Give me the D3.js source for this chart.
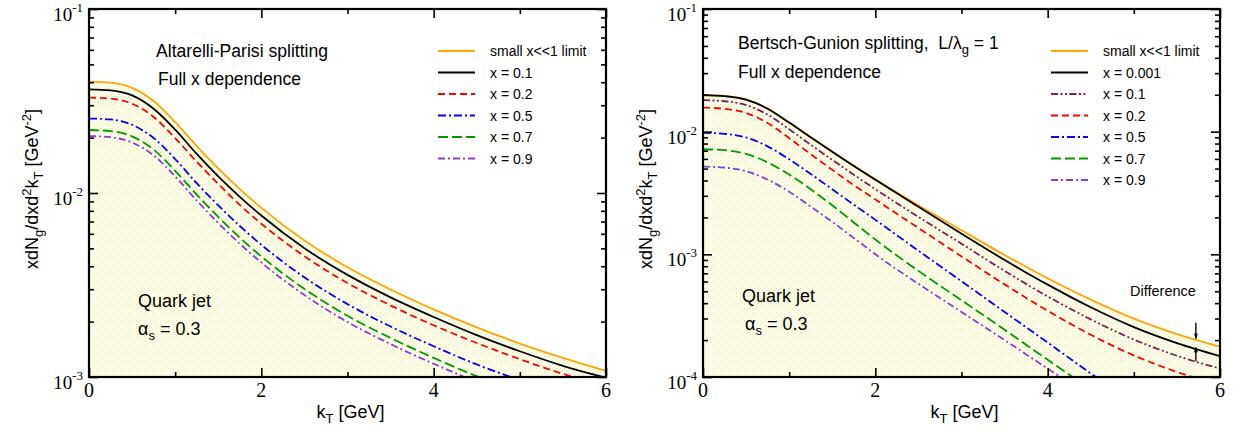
<!DOCTYPE html>
<html>
<head>
<meta charset="utf-8">
<script src="https://cdn.jsdelivr.net/npm/d3@7"></script>
<style>
  body { margin: 0; background: #fff; }
  svg text { font-family: "Liberation Sans", Arial, Helvetica, sans-serif; fill: #000; }
  svg text.num { font-family: "Liberation Serif", "Times New Roman", serif; }
</style>
</head>
<body>
<svg id="chart" width="1242" height="431"></svg>
<script>

// kT grid (GeV) shared by every curve
var kT = [0, 0.25, 0.5, 0.75, 1, 1.25, 1.5, 1.75, 2, 2.5, 3, 3.5, 4, 4.5, 5, 5.5, 6];

// left panel - Altarelli-Parisi splitting
var apLimit = [0.0403, 0.0398, 0.0373, 0.0316, 0.0243, 0.0180, 0.0136, 0.0105, 0.0083, 0.00552, 0.00395, 0.00299, 0.00233, 0.00186, 0.00152, 0.00127, 0.00108];
var apX01 = [0.0366, 0.0361, 0.0339, 0.0287, 0.0221, 0.0163, 0.0123, 0.00953, 0.00754, 0.00501, 0.00359, 0.00271, 0.00212, 0.00169, 0.00138, 0.00115, 0.00099];
var apX02 = [0.0330, 0.0326, 0.0306, 0.0259, 0.0199, 0.0148, 0.0112, 0.00861, 0.00681, 0.00453, 0.00324, 0.00245, 0.00191, 0.00153, 0.00125, 0.00104, 0.00089];
var apX05 = [0.0254, 0.0251, 0.0235, 0.0199, 0.0153, 0.0113, 0.00857, 0.00662, 0.00523, 0.00348, 0.00249, 0.00188, 0.00147, 0.00117, 0.00096, 0.00080, 0.00068];
var apX07 = [0.0220, 0.0217, 0.0203, 0.0172, 0.0132, 0.0098, 0.00741, 0.00572, 0.00452, 0.00301, 0.00215, 0.00163, 0.00127, 0.00101, 0.00083, 0.00069, 0.00059];
var apX09 = [0.0204, 0.0201, 0.0188, 0.0160, 0.0123, 0.0091, 0.00687, 0.00530, 0.00419, 0.00279, 0.00199, 0.00151, 0.00118, 0.00094, 0.00077, 0.00064, 0.00055];
var apLabels = ["small x<<1 limit", "x = 0.1", "x = 0.2", "x = 0.5", "x = 0.7", "x = 0.9"];

// right panel - Bertsch-Gunion splitting, L/lambda_g = 1
var bgLimit = [0.01991, 0.01954, 0.01828, 0.01542, 0.01189, 0.00902, 0.00687, 0.00527, 0.00409, 0.00251, 0.00157, 0.000989, 0.000638, 0.000427, 0.000299, 0.000224, 0.000177];
var bgX0001 = [0.01986, 0.01950, 0.01824, 0.01538, 0.01186, 0.00899, 0.00685, 0.00525, 0.00406, 0.00244, 0.00147, 0.000899, 0.000566, 0.000370, 0.000255, 0.000189, 0.000148];
var bgX01 = [0.01807, 0.01770, 0.01648, 0.01377, 0.01047, 0.00783, 0.00589, 0.00446, 0.00340, 0.00202, 0.00122, 0.000733, 0.000454, 0.000295, 0.000202, 0.000149, 0.000117];
var bgX02 = [0.01570, 0.01535, 0.01419, 0.01175, 0.00885, 0.00656, 0.00488, 0.00367, 0.00280, 0.00164, 0.000962, 0.000569, 0.000347, 0.000221, 0.000150, 0.000110, 0.0000863];
var bgX05 = [0.00979, 0.00961, 0.00897, 0.00759, 0.00596, 0.00452, 0.00339, 0.00254, 0.00191, 0.00107, 0.000603, 0.000339, 0.000191, 0.000107, 0.0000617, 0.0000355, 0.0000209];
var bgX07 = [0.00719, 0.00706, 0.00659, 0.00562, 0.00447, 0.00339, 0.00251, 0.00182, 0.00132, 0.000733, 0.000422, 0.000243, 0.000138, 0.0000794, 0.0000457, 0.0000263, 0.0000151];
var bgX09 = [0.00519, 0.00509, 0.00476, 0.00407, 0.00324, 0.00245, 0.00184, 0.00136, 0.00100, 0.000575, 0.000339, 0.000200, 0.000117, 0.0000692, 0.0000407, 0.0000240, 0.0000141];
var bgLabels = ["small x<<1 limit", "x = 0.001", "x = 0.1", "x = 0.2", "x = 0.5", "x = 0.7", "x = 0.9"];

// "Difference" arrows: kT and the two curve values they point at
var diffK = 5.72;
var diffValues = [0.000205, 0.000175];

// axis ticks
var xMajor = [0, 2, 4, 6];
var xMinor = [1, 3, 5];
var apDecades = [1e-3, 1e-2, 1e-1];
var apExps = ["-3", "-2", "-1"];
var bgDecades = [1e-4, 1e-3, 1e-2, 1e-1];
var bgExps = ["-4", "-3", "-2", "-1"];

// line styles
var stLimit  = { color: "#ffa500", dash: null };
var stBlack  = { color: "#000000", dash: null };
var stRed    = { color: "#ff0000", dash: "7,4" };
var stBlue   = { color: "#0000ff", dash: "8,3,2,3" };
var stGreen  = { color: "#009a00", dash: "10,4" };
var stPurple = { color: "#8a3fd1", dash: "7,3,2,3" };
var stMaroon = { color: "#7b1f55", dash: "7,2.5,2,2.5,2,2.5" };

var svg = d3.select("#chart");
var defs = svg.append("defs");

// pale stipple under the small-x curve
var pat = defs.append("pattern")
  .attr("id", "dots")
  .attr("patternUnits", "userSpaceOnUse")
  .attr("width", 4)
  .attr("height", 4);
pat.append("rect").attr("x", 0).attr("y", 0).attr("width", 4).attr("height", 4).attr("fill", "#fdfdf4");
pat.append("rect").attr("x", 0).attr("y", 0).attr("width", 1).attr("height", 1)
  .attr("fill", "#f0f040").attr("fill-opacity", 0.75).attr("shape-rendering", "crispEdges");
pat.append("rect").attr("x", 2).attr("y", 2).attr("width", 1).attr("height", 1)
  .attr("fill", "#f0f040").attr("fill-opacity", 0.75).attr("shape-rendering", "crispEdges");

defs.append("marker")
  .attr("id", "arrowHead")
  .attr("viewBox", "0 0 10 10")
  .attr("refX", 10)
  .attr("refY", 5)
  .attr("markerWidth", 6)
  .attr("markerHeight", 5)
  .attr("markerUnits", "userSpaceOnUse")
  .attr("orient", "auto")
  .append("path")
  .attr("d", "M0,1L10,5L0,9Z")
  .attr("fill", "#000");

function drawPanel(p) {

  var g = svg.append("g");

  var x = d3.scaleLinear().domain([0, 6]).range([p.left, p.right]);
  var y = d3.scaleLog().domain(p.yDomain).range([p.bottom, p.top]);

  defs.append("clipPath").attr("id", "clip-" + p.id)
    .append("rect")
    .attr("x", p.left).attr("y", p.top)
    .attr("width", p.right - p.left).attr("height", p.bottom - p.top);

  var plot = g.append("g").attr("clip-path", "url(#clip-" + p.id + ")");

  var area = d3.area()
    .x(function(d, i) { return x(kT[i]); })
    .y0(p.bottom)
    .y1(function(d) { return y(d); })
    .curve(d3.curveMonotoneX);

  var line = d3.line()
    .x(function(d, i) { return x(kT[i]); })
    .y(function(d) { return y(d); })
    .curve(d3.curveMonotoneX);

  //fill below the limit curve
  plot.append("path")
    .datum(p.series[0].values)
    .attr("d", area)
    .attr("fill", "url(#dots)");

  p.series.forEach(function(s) {
    plot.append("path")
      .datum(s.values)
      .attr("d", line)
      .attr("fill", "none")
      .attr("stroke", s.style.color)
      .attr("stroke-width", 1.8)
      .attr("stroke-dasharray", s.style.dash);
  });

  // ticks, all pointing inwards
  function tickStyle(sel) {
    sel.select(".domain").remove();
    sel.selectAll(".tick line").attr("stroke", "#000").attr("stroke-width", 1.6);
  }
  var yAll = y.ticks();
  var yMinor = yAll.filter(function(v) { return p.decades.indexOf(v) < 0; });

  g.append("g").attr("transform", "translate(0," + p.bottom + ")")
    .call(d3.axisBottom(x).tickValues(xMajor).tickSize(-9).tickSizeOuter(0).tickFormat(""))
    .call(tickStyle);
  g.append("g").attr("transform", "translate(0," + p.bottom + ")")
    .call(d3.axisBottom(x).tickValues(xMinor).tickSize(-5).tickSizeOuter(0).tickFormat(""))
    .call(tickStyle);
  g.append("g").attr("transform", "translate(0," + p.top + ")")
    .call(d3.axisTop(x).tickValues(xMajor).tickSize(-9).tickSizeOuter(0).tickFormat(""))
    .call(tickStyle);
  g.append("g").attr("transform", "translate(0," + p.top + ")")
    .call(d3.axisTop(x).tickValues(xMinor).tickSize(-5).tickSizeOuter(0).tickFormat(""))
    .call(tickStyle);
  g.append("g").attr("transform", "translate(" + p.left + ",0)")
    .call(d3.axisLeft(y).tickValues(p.decades).tickSize(-9).tickSizeOuter(0).tickFormat(""))
    .call(tickStyle);
  g.append("g").attr("transform", "translate(" + p.left + ",0)")
    .call(d3.axisLeft(y).tickValues(yMinor).tickSize(-5).tickSizeOuter(0).tickFormat(""))
    .call(tickStyle);
  g.append("g").attr("transform", "translate(" + p.right + ",0)")
    .call(d3.axisRight(y).tickValues(p.decades).tickSize(-9).tickSizeOuter(0).tickFormat(""))
    .call(tickStyle);
  g.append("g").attr("transform", "translate(" + p.right + ",0)")
    .call(d3.axisRight(y).tickValues(yMinor).tickSize(-5).tickSizeOuter(0).tickFormat(""))
    .call(tickStyle);

  // frame
  g.append("rect")
    .attr("x", p.left).attr("y", p.top)
    .attr("width", p.right - p.left).attr("height", p.bottom - p.top)
    .attr("fill", "none").attr("stroke", "#000").attr("stroke-width", 2.2);

  // tick labels
  g.selectAll(".xlab")
    .data(xMajor)
    .enter()
    .append("text")
    .attr("class", "num")
    .attr("x", function(d) { return x(d); })
    .attr("y", p.bottom + 20)
    .attr("text-anchor", "middle")
    .attr("font-size", 20)
    .text(function(d) { return d; });

  var ylab = g.selectAll(".ylab")
    .data(p.decades)
    .enter()
    .append("text")
    .attr("class", "num")
    .attr("x", p.left - 6)
    .attr("y", function(d) { return y(d) + 12; })
    .attr("text-anchor", "end")
    .attr("font-size", 19);
  ylab.append("tspan").text("10");
  ylab.append("tspan")
    .attr("dy", -9)
    .attr("font-size", 13)
    .text(function(d, i) { return p.exps[i]; });

  // axis titles
  var cx = (p.left + p.right) / 2;
  var xt = g.append("text")
    .attr("x", cx + 3).attr("y", 418)
    .attr("text-anchor", "middle")
    .attr("font-size", 18);
  xt.append("tspan").text("k");
  xt.append("tspan").attr("dy", 5).attr("font-size", 13).text("T");
  xt.append("tspan").attr("dy", -5).text(" [GeV]");

  var yt = g.append("text")
    .attr("transform", "translate(" + (p.left - 51) + ",189) rotate(-90)")
    .attr("text-anchor", "middle")
    .attr("font-size", 18);
  yt.append("tspan").text("xdN");
  yt.append("tspan").attr("dy", 5).attr("font-size", 13).text("g");
  yt.append("tspan").attr("dy", -5).text("/dxd");
  yt.append("tspan").attr("dy", -7).attr("font-size", 13).text("2");
  yt.append("tspan").attr("dy", 7).text("k");
  yt.append("tspan").attr("dy", 5).attr("font-size", 13).text("T");
  yt.append("tspan").attr("dy", -5).text(" [GeV");
  yt.append("tspan").attr("dy", -7).attr("font-size", 13).text("-2");
  yt.append("tspan").attr("dy", 7).text("]");

  // legend
  p.series.forEach(function(s, i) {
    var ly = p.legendTop + i * 21.5;
    g.append("line")
      .attr("x1", p.legendX).attr("x2", p.legendX + 37)
      .attr("y1", ly).attr("y2", ly)
      .attr("stroke", s.style.color)
      .attr("stroke-width", 1.8)
      .attr("stroke-dasharray", s.style.dash);
    g.append("text")
      .attr("x", p.legendX + 52).attr("y", ly + 5)
      .attr("font-size", 14)
      .text(s.label);
  });

  return { x: x, y: y, g: g };
}

var left = drawPanel({
  id: "ap", left: 89, right: 606, top: 9, bottom: 377,
  yDomain: [1e-3, 1e-1], decades: apDecades, exps: apExps,
  legendX: 438, legendTop: 51,
  series: [
    { values: apLimit, style: stLimit, label: apLabels[0] },
    { values: apX01, style: stBlack, label: apLabels[1] },
    { values: apX02, style: stRed, label: apLabels[2] },
    { values: apX05, style: stBlue, label: apLabels[3] },
    { values: apX07, style: stGreen, label: apLabels[4] },
    { values: apX09, style: stPurple, label: apLabels[5] }
  ]
});

var right = drawPanel({
  id: "bg", left: 703, right: 1220, top: 9, bottom: 377,
  yDomain: [1e-4, 1e-1], decades: bgDecades, exps: bgExps,
  legendX: 1051, legendTop: 51,
  series: [
    { values: bgLimit, style: stLimit, label: bgLabels[0] },
    { values: bgX0001, style: stBlack, label: bgLabels[1] },
    { values: bgX01, style: stMaroon, label: bgLabels[2] },
    { values: bgX02, style: stRed, label: bgLabels[3] },
    { values: bgX05, style: stBlue, label: bgLabels[4] },
    { values: bgX07, style: stGreen, label: bgLabels[5] },
    { values: bgX09, style: stPurple, label: bgLabels[6] }
  ]
});

// annotations, left
left.g.append("text").attr("x", 156).attr("y", 57).attr("font-size", 17.6).text("Altarelli-Parisi splitting");
left.g.append("text").attr("x", 158).attr("y", 85).attr("font-size", 17.5).text("Full x dependence");
left.g.append("text").attr("x", 138).attr("y", 307).attr("font-size", 18).text("Quark jet");
var aL = left.g.append("text").attr("x", 138).attr("y", 335).attr("font-size", 18);
aL.append("tspan").text("\u03b1");
aL.append("tspan").attr("dy", 5).attr("font-size", 13).text("s");
aL.append("tspan").attr("dy", -5).text(" = 0.3");

// annotations, right
var hR = right.g.append("text").attr("x", 738).attr("y", 49).attr("font-size", 17.5);
hR.append("tspan").text("Bertsch-Gunion splitting,\u00a0 L/\u03bb");
hR.append("tspan").attr("dy", 5).attr("font-size", 13).text("g");
hR.append("tspan").attr("dy", -5).text(" = 1");
right.g.append("text").attr("x", 738).attr("y", 78).attr("font-size", 17.5).text("Full x dependence");
right.g.append("text").attr("x", 742).attr("y", 302).attr("font-size", 18).text("Quark jet");
var aR = right.g.append("text").attr("x", 745).attr("y", 330).attr("font-size", 18);
aR.append("tspan").text("\u03b1");
aR.append("tspan").attr("dy", 5).attr("font-size", 13).text("s");
aR.append("tspan").attr("dy", -5).text(" = 0.3");
right.g.append("text").attr("x", 1130).attr("y", 296).attr("font-size", 14.5).text("Difference");

// difference arrows between limit and x = 0.001
var ax = right.x(diffK);
right.g.append("line")
  .attr("x1", ax).attr("x2", ax)
  .attr("y1", right.y(diffValues[0]) - 16).attr("y2", right.y(diffValues[0]))
  .attr("stroke", "#000").attr("stroke-width", 1.4)
  .attr("marker-end", "url(#arrowHead)");
right.g.append("line")
  .attr("x1", ax).attr("x2", ax)
  .attr("y1", right.y(diffValues[1]) + 14).attr("y2", right.y(diffValues[1]))
  .attr("stroke", "#000").attr("stroke-width", 1.4)
  .attr("marker-end", "url(#arrowHead)");

</script>
</body>
</html>
